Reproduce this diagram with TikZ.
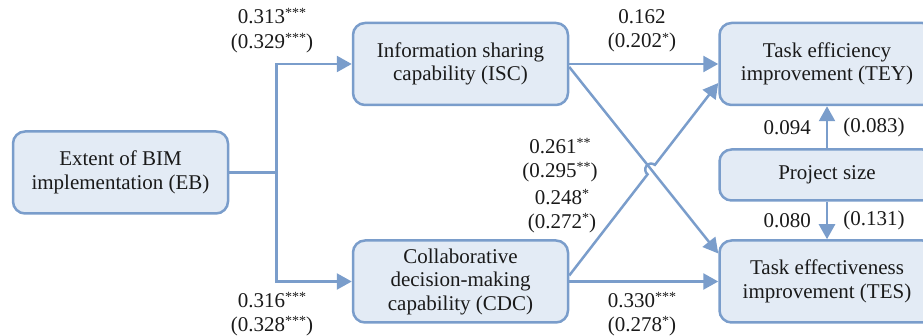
\documentclass[tikz,border=0pt]{standalone}
\usepackage{fontspec}
\setmainfont{Liberation Serif}
\usepackage{xcolor}
\usepackage{tikz}
\usetikzlibrary{arrows.meta,positioning,calc,intersections}
\definecolor{constructfill}{HTML}{E3EBF5}
\definecolor{constructline}{HTML}{7A9DCB}
\definecolor{inkblack}{HTML}{1A1A1A}
\newcommand{\sigstars}[1]{\raisebox{0.28em}{\fontsize{14}{14}\selectfont #1}}
\tikzset{
  constructbox/.style={draw=constructline,line width=2.5pt,rounded corners=12pt,fill=constructfill,minimum width=215pt,minimum height=82pt,inner sep=2pt,align=center,font=\fontsize{21}{23.5}\selectfont,text=inkblack},
  patharrow/.style={-{Triangle[length=15pt,width=16pt]},draw=constructline,line width=2.5pt},
  coefnode/.style={inner sep=0pt,align=center,font=\fontsize{21}{24.5}\selectfont,text=inkblack},
}

\begin{document}
\begin{tikzpicture}[x=1pt,y=1pt,node distance=149pt]
    \useasboundingbox (0,0) rectangle (923,336);
    \clip (0,0) rectangle (923,336);
    % constructs
    \node[constructbox] (EB) at (120.5,163.5) {Extent of BIM\\implementation (EB)};
    \node[constructbox] (ISC) at (460.5,272) {Information sharing\\capability (ISC)};
    \node[constructbox] (CDC) at (460.5,54.5) {Collaborative\\decision-making\\capability (CDC)};
    \node[constructbox,right=of ISC] (TEY) {Task efficiency\\improvement (TEY)};
    \node[constructbox,right=of CDC] (TES) {Task effectiveness\\improvement (TES)};
    \node[constructbox,minimum height=51pt,below=42pt of TEY] (PS) {Project size};
    % paths out of EB
    \coordinate (split) at ($(EB.east)+(47,0)$);
    \draw[patharrow] (EB.east) -- (split) |- (ISC.west);
    \draw[patharrow] (split) |- (CDC.west);
    \draw[patharrow] (ISC.east) -- (TEY.west);
    \draw[patharrow] (CDC.east) -- (TES.west);
    % crossing paths, CDC -> TEY hops over ISC -> TES
    \coordinate (iscout) at ([yshift=-3pt]ISC.east);
    \coordinate (tesin) at ([yshift=28pt]TES.west);
    \coordinate (cdcout) at ([yshift=6pt]CDC.east);
    \coordinate (teyin) at ([yshift=-19pt]TEY.west);
    \path[name path=isctes] (iscout) -- (tesin);
    \path[name path=cdctey] (cdcout) -- (teyin);
    \path[name intersections={of=isctes and cdctey,by=hop}];
    \draw[patharrow] (iscout) -- (tesin);
    \draw[patharrow] let \p1=($(teyin)-(cdcout)$), \n1={atan2(\y1,\x1)} in
      (cdcout) -- ($(hop)!6pt!(cdcout)$) arc[start angle=\n1+180,end angle=\n1,radius=6pt] -- (teyin);
    % control variable
    \draw[patharrow] (PS.north) -- node[coefnode,left=15pt] (c094) {0.094} node[coefnode,right=15pt] (c083) {(0.083)} (TEY.south);
    \draw[patharrow] (PS.south) -- node[coefnode,left=15pt] (c080) {0.080} node[coefnode,right=15pt] (c131) {(0.131)} (TES.north);
    % coefficients
    \node[coefnode] (c313) at (272,305.5) {0.313\sigstars{***}\\(0.329\sigstars{***})};
    \node[coefnode] (c316) at (272,22) {0.316\sigstars{***}\\(0.328\sigstars{***})};
    \node[coefnode] (c162) at (642,305) {0.162\\(0.202\sigstars{*})};
    \node[coefnode] (c261) at (560,176) {0.261\sigstars{**}\\(0.295\sigstars{**})};
    \node[coefnode] (c248) at (562,125) {0.248\sigstars{*}\\(0.272\sigstars{*})};
    \node[coefnode] (c330) at (642,22) {0.330\sigstars{***}\\(0.278\sigstars{*})};
\end{tikzpicture}
\end{document}
